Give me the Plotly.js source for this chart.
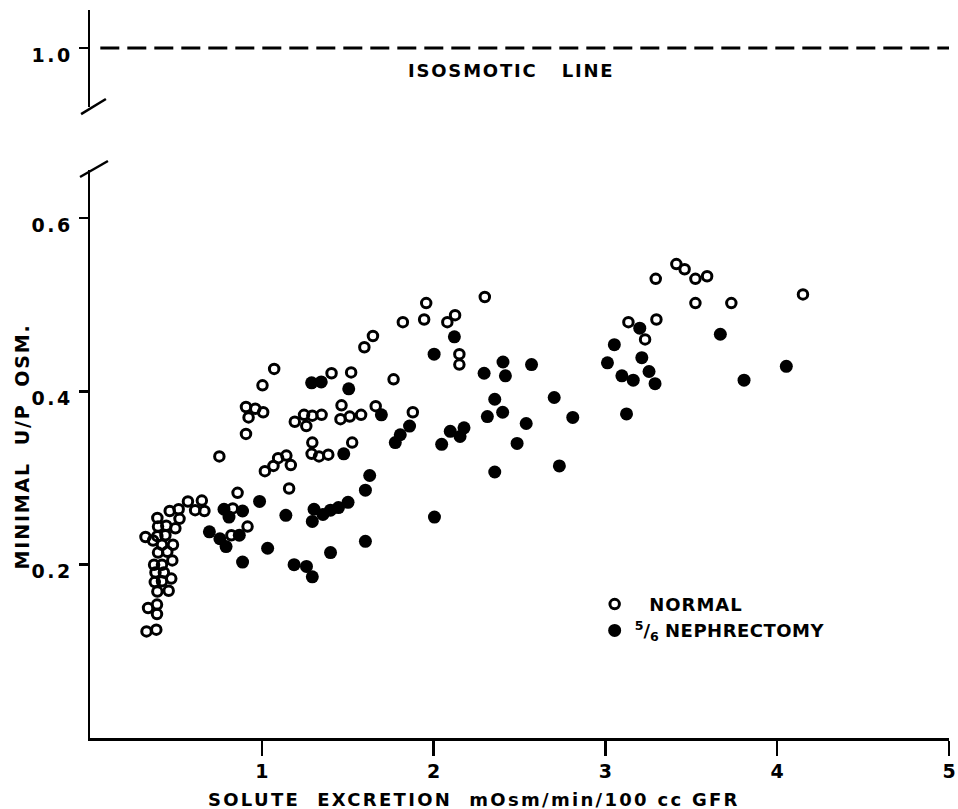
<!DOCTYPE html>
<html>
<head>
<meta charset="utf-8">
<script src="https://cdn.plot.ly/plotly-3.0.1.min.js"></script>
<style>html,body{margin:0;padding:0;background:#fff;}#chart{width:958px;height:809px;}</style>
</head>
<body>
<div id="chart"></div>
<script>
// Normal rats (open circles)
const normalX = [0.570,0.651,0.612,0.666,0.464,0.516,0.521,0.392,0.396,0.444,0.497,0.323,0.367,0.392,0.439,0.419,0.483,0.396,0.450,0.479,0.373,0.419,0.381,0.430,0.473,0.377,0.419,0.392,0.458,0.338,0.390,0.390,0.329,0.386,
  0.859,1.159,0.917,0.823,0.831,0.753,0.908,0.908,0.962,1.008,0.923,1.004,1.072,1.018,1.068,1.095,1.143,1.169,1.192,1.246,1.294,1.348,1.259,1.294,1.290,1.333,1.387,1.406,1.520,1.464,1.458,1.512,1.578,1.663,1.526,1.597,1.647,1.767,1.879,1.821,1.945,1.957,2.080,2.125,2.150,2.150,2.298,
  3.134,3.297,3.231,3.293,3.413,3.461,3.524,3.592,3.524,3.733,4.150];
const normalY = [0.273,0.274,0.263,0.262,0.262,0.264,0.253,0.254,0.244,0.245,0.242,0.232,0.228,0.233,0.234,0.223,0.223,0.214,0.215,0.205,0.200,0.200,0.191,0.191,0.184,0.180,0.181,0.169,0.170,0.150,0.154,0.143,0.123,0.125,
  0.283,0.288,0.244,0.234,0.265,0.325,0.351,0.382,0.380,0.376,0.370,0.407,0.426,0.308,0.314,0.323,0.326,0.315,0.365,0.373,0.372,0.373,0.360,0.341,0.328,0.325,0.327,0.421,0.422,0.384,0.368,0.371,0.373,0.383,0.341,0.451,0.464,0.414,0.376,0.480,0.483,0.502,0.480,0.488,0.443,0.431,0.509,
  0.480,0.483,0.460,0.530,0.547,0.541,0.530,0.533,0.502,0.502,0.512];

// 5/6 nephrectomy rats (filled circles)
const nephX = [0.695,0.756,0.792,0.780,0.809,0.888,0.869,0.888,0.987,1.034,
  1.140,1.188,1.260,1.294,1.304,1.294,1.356,1.400,1.446,1.502,
  1.400,1.603,1.603,1.628,1.477,1.506,1.290,1.346,1.696,1.777,
  1.806,1.860,2.005,2.003,2.121,2.047,2.097,2.177,2.154,2.294,
  2.404,2.418,2.570,2.356,2.402,2.313,2.539,2.486,2.356,2.702,
  2.810,2.732,3.012,3.200,3.052,3.212,3.096,3.162,3.254,3.289,
  3.123,3.669,3.807,4.053];
const nephY = [0.238,0.230,0.221,0.264,0.255,0.262,0.234,0.203,0.273,0.219,
  0.257,0.200,0.198,0.186,0.264,0.250,0.258,0.263,0.266,0.272,
  0.214,0.227,0.286,0.303,0.328,0.403,0.410,0.411,0.373,0.341,
  0.350,0.360,0.255,0.443,0.463,0.339,0.354,0.358,0.348,0.421,
  0.434,0.418,0.431,0.391,0.376,0.371,0.363,0.340,0.307,0.393,
  0.370,0.314,0.433,0.473,0.454,0.439,0.418,0.413,0.423,0.409,
  0.374,0.466,0.413,0.429];

// Isosmotic line (U/P = 1.0)
const isoX = [0.06, 5.0];
const isoY = [1.0, 1.0];

// Axis ticks
const xTickVals = [1, 2, 3, 4, 5];
const xTickText = ['1', '2', '3', '4', '5'];
const yTickVals = [0.2, 0.4, 0.6];
const yTickText = ['0.2', '0.4', '0.6'];
const y2TickVals = [1.0];
const y2TickText = ['1.0'];

const FONT = 'DejaVu Sans, Liberation Sans, sans-serif';
const sp = (t, ls) => '<span style="letter-spacing:' + ls + 'px">' + t + '</span>';

const traces = [
  {
    x: normalX, y: normalY, type: 'scatter', mode: 'markers',
    name: sp('&nbsp;&nbsp;NORMAL', 1),
    marker: {symbol: 'circle-open', size: 9.5, color: '#000', line: {color: '#000', width: 3}},
    xaxis: 'x', yaxis: 'y'
  },
  {
    x: nephX, y: nephY, type: 'scatter', mode: 'markers',
    name: '<sup>5</sup>/<sub>6</sub> ' + sp('NEPHRECTOMY', 0.5),
    marker: {symbol: 'circle', size: 13, color: '#000'},
    xaxis: 'x', yaxis: 'y'
  },
  {
    x: isoX, y: isoY, type: 'scatter', mode: 'lines', showlegend: false,
    line: {color: '#000', width: 3, dash: '19px,8px'},
    xaxis: 'x', yaxis: 'y2', hoverinfo: 'skip'
  }
];

const BOLD = {family: FONT, color: '#000', weight: 'bold'};

const layout = {
  width: 958, height: 809,
  margin: {l: 90, r: 9, t: 10, b: 71},
  paper_bgcolor: '#fff', plot_bgcolor: '#fff',
  font: {family: FONT, color: '#000', size: 18},
  showlegend: true,
  legend: {
    x: 0.5875, y: 0.209, xanchor: 'left', yanchor: 'top',
    bgcolor: 'rgba(0,0,0,0)', borderwidth: 0,
    font: Object.assign({size: 18}, BOLD),
    itemwidth: 30, traceorder: 'normal'
  },
  xaxis: {
    range: [0, 5], domain: [0, 1], anchor: 'y',
    showline: true, linecolor: '#000', linewidth: 2.5,
    showgrid: false, zeroline: false,
    ticks: 'outside', ticklen: 15, tickwidth: 2.5, tickcolor: '#000',
    tickvals: xTickVals, ticktext: xTickText,
    ticklabeloverflow: 'allow',
    tickfont: Object.assign({size: 19}, BOLD)
  },
  yaxis: {
    range: [0, 0.6554], domain: [0, 0.780], anchor: 'x',
    showline: true, linecolor: '#000', linewidth: 2.5,
    showgrid: false, zeroline: false,
    ticks: 'outside', ticklen: 9, tickwidth: 2.5, tickcolor: '#000',
    tickvals: yTickVals, ticktext: yTickText.map(t => sp(t, 2.5)),
    ticklabelshift: 7, ticklabelstandoff: 2,
    tickfont: Object.assign({size: 19}, BOLD)
  },
  yaxis2: {
    range: [0.854, 1.094], domain: [0.8668, 1], anchor: 'x',
    showline: true, linecolor: '#000', linewidth: 2.5,
    showgrid: false, zeroline: false,
    ticks: 'outside', ticklen: 9, tickwidth: 2.5, tickcolor: '#000',
    tickvals: y2TickVals, ticktext: y2TickText.map(t => sp(t, 2.5)),
    ticklabelshift: 7, ticklabelstandoff: 2,
    tickfont: Object.assign({size: 19}, BOLD)
  },
  shapes: [
    {type: 'line', xref: 'paper', yref: 'paper', x0: -0.0104, y0: 0.857, x1: 0.0185, y1: 0.8777,
     line: {color: '#000', width: 2.5}},
    {type: 'line', xref: 'paper', yref: 'paper', x0: -0.0116, y0: 0.7706, x1: 0.0209, y1: 0.7926,
     line: {color: '#000', width: 2.5}}
  ],
  annotations: [
    {text: sp('ISOSMOTIC&nbsp;&nbsp;&nbsp;LINE', 1.8), xref: 'x', yref: 'y2', x: 2.45, y: 0.945,
     xanchor: 'center', yanchor: 'middle', showarrow: false,
     font: Object.assign({size: 18}, BOLD)},
    {text: sp('MINIMAL&nbsp;&nbsp;U/P&nbsp;&nbsp;OSM.', 1.8), xref: 'paper', yref: 'paper',
     x: -0.0788, y: 0.401, xanchor: 'center', yanchor: 'middle', textangle: -90, showarrow: false,
     font: Object.assign({size: 19}, BOLD)},
    {text: sp('SOLUTE&nbsp;&nbsp;EXCRETION&nbsp;&nbsp;mOsm/min/100&nbsp;cc&nbsp;GFR', 2.3), xref: 'paper', yref: 'paper',
     x: 0.447, y: -0.085, xanchor: 'center', yanchor: 'middle', showarrow: false,
     font: Object.assign({size: 18}, BOLD)}
  ]
};

Plotly.newPlot('chart', traces, layout, {staticPlot: true, displayModeBar: false});
</script>
</body>
</html>
